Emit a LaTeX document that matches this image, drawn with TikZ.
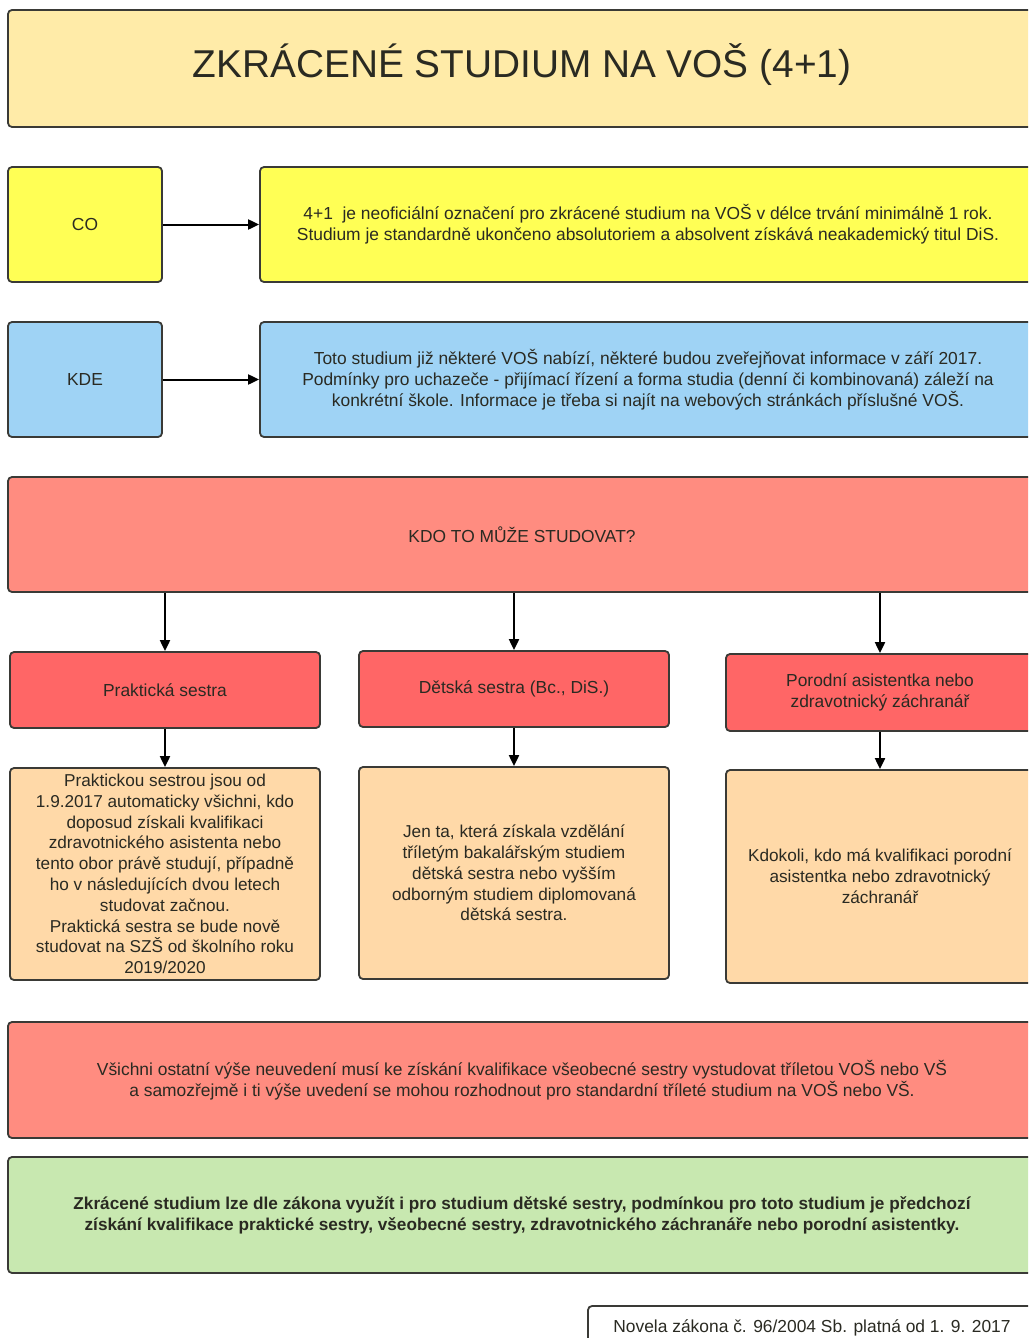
\documentclass[tikz,border=0pt]{standalone}
\usepackage{fontspec}
\setmainfont{Liberation Sans}
\usetikzlibrary{arrows.meta}
\definecolor{titlefill}{HTML}{FFEBA8}
\definecolor{cofill}{HTML}{FFFF55}
\definecolor{kdefill}{HTML}{9FD3F5}
\definecolor{salmon}{HTML}{FF8C80}
\definecolor{redbox}{HTML}{FF6666}
\definecolor{peach}{HTML}{FFD9A8}
\definecolor{greenbox}{HTML}{C8E8B0}
\definecolor{boxline}{HTML}{3A3A36}
\definecolor{txt}{HTML}{2A2A22}
\begin{document}
\begin{tikzpicture}[x=1pt,y=-1pt,
  box/.style={draw=boxline, line width=1.8pt, rounded corners=4pt, align=center, text=txt, inner sep=0pt},
  body/.style={font=\fontsize{17.4}{21}\selectfont},
  desc/.style={font=\fontsize{17.2}{20.8}\selectfont},
  arr/.style={draw=black, line width=2pt, -{Triangle[length=11pt,width=10pt]}}]
\useasboundingbox (0,0) rectangle (1028,1338);
\clip (0,0) rectangle (1028,1338);

\node[box, fill=titlefill, minimum width=1028pt, minimum height=117pt, font=\fontsize{38.8}{44}\selectfont] (title) at (522,68.5) {\raisebox{4pt}[\height][\depth]{ZKRÁCENÉ STUDIUM NA VOŠ (4+1)}};

\node[box, body, fill=cofill, minimum width=154pt, minimum height=115pt] (co) at (85,224.5) {CO};
\node[box, body, fill=cofill, minimum width=776pt, minimum height=115pt] (cotext) at (648,224.5)
  {4+1\ \ je neoficiální označení pro zkrácené studium na VOŠ v délce trvání minimálně 1 rok.\\
   Studium je standardně ukončeno absolutoriem a absolvent získává neakademický titul DiS.};

\node[box, body, fill=kdefill, minimum width=154pt, minimum height=115pt] (kde) at (85,379.5) {KDE};
\node[box, body, fill=kdefill, minimum width=776pt, minimum height=115pt] (kdetext) at (648,379.5)
  {Toto studium již některé VOŠ nabízí, některé budou zveřejňovat informace v září 2017.\\
   Podmínky pro uchazeče - přijímací řízení a forma studia (denní či kombinovaná) záleží na\\
   konkrétní škole. Informace je třeba si najít na webových stránkách příslušné VOŠ.};

\node[box, body, fill=salmon, minimum width=1028pt, minimum height=115pt] (kdo) at (522,534.5) {KDO TO MŮŽE STUDOVAT?};

\node[box, body, fill=redbox, minimum width=310pt, minimum height=76pt] (p1) at (165,690) {Praktická sestra};
\node[box, body, fill=redbox, minimum width=310pt, minimum height=76pt] (p2) at (514,689) {Dětská sestra (Bc., DiS.)};
\node[box, body, fill=redbox, minimum width=308pt, minimum height=77pt] (p3) at (880,692.5) {Porodní asistentka nebo\\zdravotnický záchranář};

\node[box, desc, fill=peach, minimum width=310pt, minimum height=212pt] (d1) at (165,874)
  {Praktickou sestrou jsou od\\1.9.2017 automaticky všichni, kdo\\doposud získali kvalifikaci\\zdravotnického asistenta nebo\\tento obor právě studují, případně\\ho v následujících dvou letech\\studovat začnou.\\Praktická sestra se bude nově\\studovat na SZŠ od školního roku\\2019/2020};
\node[box, desc, fill=peach, minimum width=310pt, minimum height=212pt] (d2) at (514,873)
  {Jen ta, která získala vzdělání\\tříletým bakalářským studiem\\dětská sestra nebo vyšším\\odborným studiem diplomovaná\\dětská sestra.};
\node[box, desc, fill=peach, minimum width=308pt, minimum height=213pt] (d3) at (880,876.5)
  {Kdokoli, kdo má kvalifikaci porodní\\asistentka nebo zdravotnický\\záchranář};

\node[box, body, fill=salmon, minimum width=1028pt, minimum height=116pt] (vs) at (522,1080)
  {Všichni ostatní výše neuvedení musí ke získání kvalifikace všeobecné sestry vystudovat tříletou VOŠ nebo VŠ\\
   a samozřejmě i ti výše uvedení se mohou rozhodnout pro standardní tříleté studium na VOŠ nebo VŠ.};

\node[box, body, fill=greenbox, minimum width=1028pt, minimum height=116pt, font=\fontsize{17.2}{21}\selectfont\bfseries] (gr) at (522,1215)
  {Zkrácené studium lze dle zákona využít i pro studium dětské sestry, podmínkou pro toto studium je předchozí\\
   získání kvalifikace praktické sestry, všeobecné sestry, zdravotnického záchranáře nebo porodní asistentky.};

\node[box, body, fill=white, minimum width=448pt, minimum height=44pt] (nov) at (812,1328)
  {Novela zákona č. 96/2004 Sb. platná od 1. 9. 2017};

\draw[arr] (co) -- (cotext);
\draw[arr] (kde) -- (kdetext);
\draw[arr] (kdo.south -| p1.north) -- (p1.north);
\draw[arr] (kdo.south -| p2.north) -- (p2.north);
\draw[arr] (kdo.south -| p3.north) -- (p3.north);
\draw[arr] (p1.south) -- (d1.north);
\draw[arr] (p2.south) -- (d2.north);
\draw[arr] (p3.south) -- (d3.north);
\end{tikzpicture}
\end{document}
